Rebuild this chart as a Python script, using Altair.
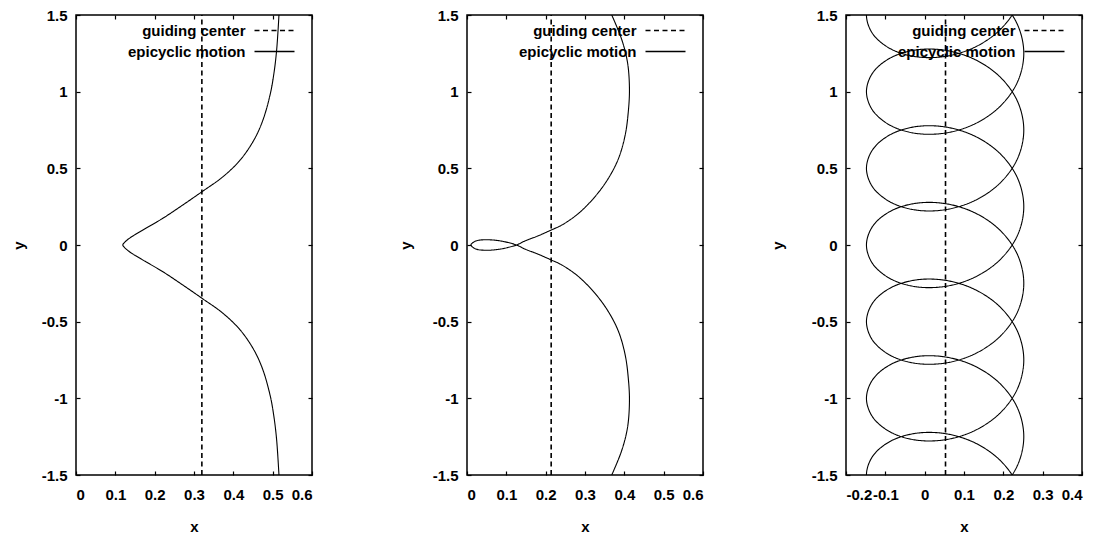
import altair as alt
import pandas as pd

SERIES = ["guiding center", "epicyclic motion"]
Y_TICKS = [-1.5, -1, -0.5, 0, 0.5, 1, 1.5]

# ---------------- panel 1 (cusped orbit) ----------------
p1_guide = 0.32
p1_xdomain = [0, 0.6]
p1_xticks = [0, 0.1, 0.2, 0.3, 0.4, 0.5, 0.6]
p1_x = [0.516, 0.510, 0.503, 0.494, 0.475, 0.452, 0.417, 0.373, 0.320, 0.271,
        0.220, 0.170, 0.136, 0.124, 0.119, 0.124, 0.136, 0.170, 0.220, 0.271,
        0.320, 0.373, 0.417, 0.452, 0.475, 0.494, 0.503, 0.510, 0.516]
p1_y = [1.5, 1.268, 1.116, 0.986, 0.813, 0.683, 0.553, 0.444, 0.347, 0.26,
        0.173, 0.098, 0.044, 0.018, 0.0, -0.018, -0.044, -0.098, -0.173, -0.26,
        -0.347, -0.444, -0.553, -0.683, -0.813, -0.986, -1.116, -1.268, -1.5]

# ---------------- panel 2 (small loop) ----------------
p2_guide = 0.214
p2_xdomain = [0, 0.6]
p2_xticks = [0, 0.1, 0.2, 0.3, 0.4, 0.5, 0.6]
p2_x = [0.368, 0.393, 0.408, 0.413, 0.410, 0.402, 0.385, 0.359, 0.325, 0.283,
        0.241, 0.214, 0.181, 0.147, 0.126, 0.103, 0.086, 0.064, 0.045, 0.030,
        0.019, 0.010, 0.019, 0.030, 0.045, 0.064, 0.086, 0.103, 0.126, 0.147,
        0.181, 0.214, 0.241, 0.283, 0.325, 0.359, 0.385, 0.402, 0.410, 0.413,
        0.408, 0.393, 0.368]
p2_y = [1.5, 1.343, 1.192, 1.018, 0.867, 0.715, 0.563, 0.433, 0.314, 0.205,
        0.130, 0.0975, 0.060, 0.026, 0.0, -0.017, -0.026, -0.033, -0.034, -0.031,
        -0.022, 0.0, 0.022, 0.031, 0.034, 0.033, 0.026, 0.017, 0.0, -0.026,
        -0.060, -0.0975, -0.130, -0.205, -0.314, -0.433, -0.563, -0.715, -0.867, -1.018,
        -1.192, -1.343, -1.5]

# ---------------- panel 3 (looping orbit) ----------------
p3_guide = 0.053
p3_xdomain = [-0.2, 0.4]
p3_xticks = [-0.2, -0.1, 0, 0.1, 0.2, 0.3, 0.4]
p3_x = [0.252, 0.2368, 0.1934, 0.1285, 0.052, -0.0245, -0.0894, -0.1328,
        -0.148, -0.1328, -0.0894, -0.0245, 0.052, 0.1285, 0.1934, 0.2368,
        0.252, 0.2368, 0.1934, 0.1285, 0.052, -0.0245, -0.0894, -0.1328,
        -0.148, -0.1328, -0.0894, -0.0245, 0.052, 0.1285, 0.1934, 0.2368,
        0.252, 0.2368, 0.1934, 0.1285, 0.052, -0.0245, -0.0894, -0.1328,
        -0.148, -0.1328, -0.0894, -0.0245, 0.052, 0.1285, 0.1934, 0.2368,
        0.252, 0.2368, 0.1934, 0.1285, 0.052, -0.0245, -0.0894, -0.1328,
        -0.148,
        -0.1328, -0.0894, -0.0245, 0.052, 0.1285, 0.1934, 0.2368, 0.252,
        0.2368, 0.1934, 0.1285, 0.052, -0.0245, -0.0894, -0.1328, -0.148,
        -0.1328, -0.0894, -0.0245, 0.052, 0.1285, 0.1934, 0.2368, 0.252,
        0.2368, 0.1934, 0.1285, 0.052, -0.0245, -0.0894, -0.1328, -0.148,
        -0.1328, -0.0894, -0.0245, 0.052, 0.1285, 0.1934, 0.2368, 0.252,
        0.2368, 0.1934, 0.1285, 0.052, -0.0245, -0.0894, -0.1328, -0.148,
        -0.1328, -0.0894, -0.0245, 0.052, 0.1285, 0.1934, 0.2368, 0.252]
p3_y = [-1.75, -1.5676, -1.4082, -1.2913, -1.230, -1.2288, -1.2832, -1.3801,
        -1.5, -1.6199, -1.7168, -1.7712, -1.770, -1.7087, -1.5918, -1.4324,
        -1.25, -1.0676, -0.9082, -0.7913, -0.730, -0.7288, -0.7832, -0.8801,
        -1.0, -1.1199, -1.2168, -1.2712, -1.270, -1.2087, -1.0918, -0.9324,
        -0.75, -0.5676, -0.4082, -0.2913, -0.230, -0.2288, -0.2832, -0.3801,
        -0.5, -0.6199, -0.7168, -0.7712, -0.770, -0.7087, -0.5918, -0.4324,
        -0.25, -0.0676, 0.0918, 0.2087, 0.270, 0.2712, 0.2168, 0.1199,
        0.0,
        -0.1199, -0.2168, -0.2712, -0.270, -0.2087, -0.0918, 0.0676, 0.25,
        0.4324, 0.5918, 0.7087, 0.770, 0.7712, 0.7168, 0.6199, 0.5,
        0.3801, 0.2832, 0.2288, 0.230, 0.2913, 0.4082, 0.5676, 0.75,
        0.9324, 1.0918, 1.2087, 1.270, 1.2712, 1.2168, 1.1199, 1.0,
        0.8801, 0.7832, 0.7288, 0.730, 0.7913, 0.9082, 1.0676, 1.25,
        1.4324, 1.5918, 1.7087, 1.770, 1.7712, 1.7168, 1.6199, 1.5,
        1.3801, 1.2832, 1.2288, 1.230, 1.2913, 1.4082, 1.5676, 1.75]

FONT = "Liberation Sans"
LABEL_EXPR = ("datum.value < 0 ? '-' + format(-datum.value, '~g') "
              ": format(datum.value, '~g')")
W, H = 236, 460


def panel(cx, cy, gx, xdom, xticks, ytitle_pad):
    curve = pd.DataFrame({"x": cx, "y": cy, "i": list(range(len(cx))),
                          "series": ["epicyclic motion"] * len(cx)})
    guide = pd.DataFrame({"x": [gx, gx], "y": [-1.5, 1.5], "i": [0, 1],
                          "series": ["guiding center"] * 2})
    xs = alt.Scale(domain=xdom, nice=False, zero=False)
    ys = alt.Scale(domain=[-1.5, 1.5], nice=False, zero=False)
    legend = alt.Legend(
        title=None, orient="none", legendX=191, legendY=8,
        symbolType="M-4,0H4", symbolSize=100, symbolStrokeColor="black",
        symbolStrokeWidth=1.3, labelAlign="right",
        labelOffset={"expr": "-36.5"},
        labelFont=FONT, labelFontSize=15, labelFontWeight="bold",
        labelColor="black", rowPadding=5, padding=0,
    )
    dash = alt.StrokeDash(
        "series:N",
        scale=alt.Scale(domain=SERIES, range=[[5, 3.5], [1, 0]]),
        legend=legend,
    )
    inner = dict(offset=-4, tickSize=4, tickColor="black", tickWidth=1.2,
                 domain=False, grid=False)
    guide_layer = alt.Chart(guide).mark_line(color="black", strokeWidth=1.6).encode(
        x=alt.X("x:Q", scale=xs,
                axis=alt.Axis(orient="top", values=xticks, labels=False,
                              title=None, **inner)),
        y=alt.Y("y:Q", scale=ys,
                axis=alt.Axis(orient="right", values=Y_TICKS, labels=False,
                              title=None, **inner)),
        order="i:Q",
        strokeDash=dash,
    )
    curve_layer = alt.Chart(curve).mark_line(
        color="black", strokeWidth=1.1, interpolate="catmull-rom", clip=True
    ).encode(
        x=alt.X("x:Q", scale=xs,
                axis=alt.Axis(orient="bottom", values=xticks,
                              labelExpr=LABEL_EXPR, labelPadding=12,
                              title="x", titlePadding=17, **inner)),
        y=alt.Y("y:Q", scale=ys,
                axis=alt.Axis(orient="left", values=Y_TICKS,
                              labelExpr=LABEL_EXPR, labelPadding=9,
                              title="y", titlePadding=ytitle_pad, **inner)),
        order="i:Q",
        strokeDash=dash,
    )
    return (alt.layer(guide_layer, curve_layer)
            .resolve_axis(x="independent", y="independent")
            .properties(width=W, height=H))


p1 = panel(p1_x, p1_y, p1_guide, p1_xdomain, p1_xticks, 14.5)
p2 = panel(p2_x, p2_y, p2_guide, p2_xdomain, p2_xticks, 18.5)
p3 = panel(p3_x, p3_y, p3_guide, p3_xdomain, p3_xticks, 25.5)

left = alt.hconcat(p1, p2, spacing=83).resolve_scale(strokeDash="independent")
chart = (
    alt.hconcat(left, p3, spacing=64)
    .resolve_scale(strokeDash="independent")
    .properties(padding={"left": 2, "top": -1, "right": 0, "bottom": 0},
                background="white")
    .configure_view(stroke="black", strokeWidth=1.5)
    .configure_axis(labelFont=FONT, labelFontSize=15, labelFontWeight="bold",
                    labelColor="black", titleFont=FONT, titleFontSize=15,
                    titleFontWeight="bold", titleColor="black")
)

chart.save("out.html", embed_options={"renderer": "svg", "actions": False})
